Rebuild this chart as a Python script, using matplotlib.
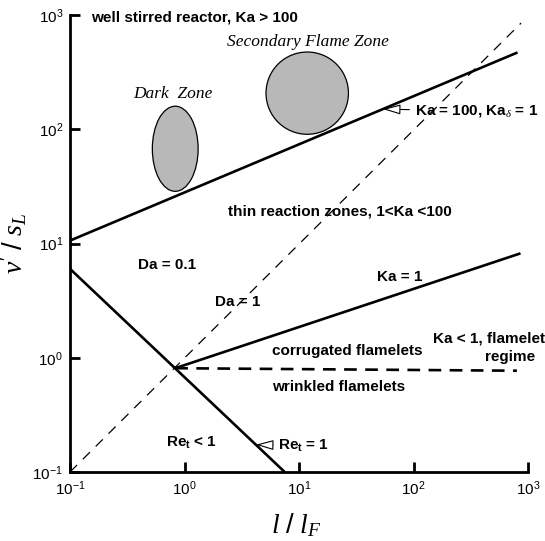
import numpy as np
import matplotlib
matplotlib.use('Agg')
import matplotlib.pyplot as plt
from matplotlib.patches import Ellipse

plt.rcParams['font.family'] = ['Liberation Sans', 'DejaVu Sans']
plt.rcParams['mathtext.fontset'] = 'custom'
plt.rcParams['mathtext.rm'] = 'Liberation Sans'
plt.rcParams['mathtext.it'] = 'Liberation Serif:italic'
plt.rcParams['mathtext.bf'] = 'Liberation Sans:bold'

# regime boundaries (l/lF, v'/sL)
ka100_x = [0.1, 810]
ka100_y = [10.6, 470]
ka1_x = [0.83, 860]
ka1_y = [0.81, 8.2]
wrinkle_x = [0.83, 800]
wrinkle_y = [0.81, 0.77]
re1_x = [0.1, 7.5]
re1_y = [6.0, 0.1]
da1_x = [0.1, 870]
da1_y = [0.1, 850]

# shaded zones: centre (l/lF, v'/sL), size in decades
zone_centres = [(0.83, 67.5), (11.8, 207)]
zone_sizes = [(0.40, 0.745), (0.72, 0.72)]

ticks = [1e-1, 1e0, 1e1, 1e2, 1e3]


def on_line(xs, ys, x):
    # point on a straight log-log segment
    lx = np.log10(xs)
    ly = np.log10(ys)
    if lx[0] > lx[1]:
        lx, ly = lx[::-1], ly[::-1]
    return x, 10 ** np.interp(np.log10(x), lx, ly)


fig = plt.figure(figsize=(5.45, 5.41), dpi=100)
ax = fig.add_axes([70 / 545, 1 - 472 / 541, 458 / 545, 457 / 541])
ax.set_xscale('log')
ax.set_yscale('log')
ax.set_xlim(0.1, 1000)
ax.set_ylim(0.1, 1000)

ax.plot(ka100_x, ka100_y, color='k', lw=1.9, solid_capstyle='butt')
ax.plot(ka1_x, ka1_y, color='k', lw=1.9, solid_capstyle='butt')
ax.plot(re1_x, re1_y, color='k', lw=1.9, solid_capstyle='butt')
ax.plot(wrinkle_x, wrinkle_y, color='k', lw=1.9, dashes=(4.8, 3.2))
ax.plot(da1_x, da1_y, color='k', lw=0.9, dashes=(8, 6.5))

# gray zones drawn in axes fractions so they stay elliptical on log axes
for (cx, cy), (w, h) in zip(zone_centres, zone_sizes):
    fx = (np.log10(cx) + 1) / 4
    fy = (np.log10(cy) + 1) / 4
    ax.add_patch(Ellipse((fx, fy), w / 4, h / 4, transform=ax.transAxes,
                         facecolor='#b8b8b8', edgecolor='k', lw=0.9))

bold = dict(fontsize=11, fontweight='bold', va='center')
serif = dict(fontsize=12.5, family='Liberation Serif', style='italic', ha='center', va='center')

ax.text(0.152, 955, 'well stirred reactor, Ka > 100', ha='left', **bold)
ax.text(12, 580, 'Secondary Flame Zone', **serif)
ax.text(0.79, 203, 'Dark  Zone', **serif)
ax.text(2.4, 19, 'thin reaction zones, 1<Ka <100', ha='left', **bold)
ax.text(0.39, 6.5, 'Da = 0.1', ha='left', **bold)
ax.text(1.85, 3.1, 'Da = 1', ha='left', **bold)
ax.text(48, 5.1, 'Ka = 1', ha='left', **bold)
ax.text(5.8, 1.15, 'corrugated flamelets', ha='left', **bold)
ax.text(148, 1.47, 'Ka < 1, flamelet', ha='left', **bold)
ax.text(697, 1.02, 'regime', ha='center', **bold)
ax.text(5.8, 0.55, 'wrinkled flamelets', ha='left', **bold)
ax.text(0.69, 0.18, r'Re$_\mathbf{t}$ < 1', ha='left', **bold)

arrow = dict(arrowstyle='-|>,head_length=0.6,head_width=0.17', fc='white', ec='k',
             lw=0.8, mutation_scale=18, shrinkA=2, shrinkB=0)
ax.annotate(r'Ka = 100, Ka$_\delta$ = 1', xy=on_line(ka100_x, ka100_y, 54),
            xytext=(103, 144), ha='left', arrowprops=arrow, **bold)
ax.annotate(r'Re$_\mathbf{t}$ = 1', xy=on_line(re1_x, re1_y, 4.2),
            xytext=(6.6, 0.17), ha='left', arrowprops=arrow, **bold)

for side in ['top', 'right']:
    ax.spines[side].set_visible(False)
for side in ['left', 'bottom']:
    ax.spines[side].set_linewidth(2)
ax.set_xticks(ticks)
ax.set_yticks(ticks)
ax.minorticks_off()
ax.tick_params(direction='in', length=7, width=2, labelsize=11, pad=5)

fig.text(296 / 545, 1 - 525 / 541, r'$l\ /\ l_F$', fontsize=20, ha='center', va='center')
fig.text(14 / 545, 1 - 243 / 541, r"$v'\ /\ s_L$", fontsize=20, ha='center', va='center',
         rotation=90)

fig.savefig('out.png', dpi=100)
